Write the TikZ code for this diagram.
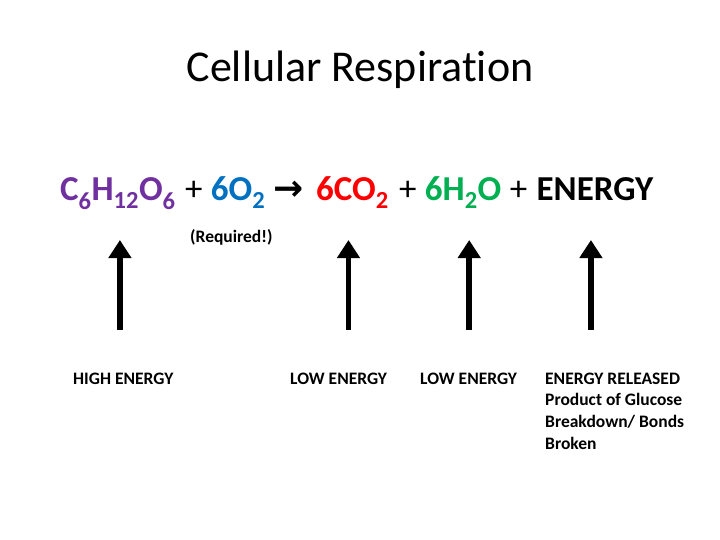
\documentclass[tikz,border=0pt]{standalone}
\usepackage{fontspec}
\setmainfont{Carlito}[Ligatures={TeX,NoCommon}]
\newfontfamily\symfont{DejaVu Sans}
\usetikzlibrary{positioning,arrows.meta}
\definecolor{glupurple}{RGB}{112,48,160}
\definecolor{oxyblue}{RGB}{0,112,192}
\definecolor{codred}{RGB}{255,0,0}
\definecolor{watgreen}{RGB}{0,176,80}
\tikzset{
  term/.style={inner sep=0pt, anchor=base west, font=\fontsize{35}{42}\selectfont\bfseries},
  sign/.style={inner sep=0pt, anchor=base west, font=\fontsize{35}{42}\selectfont},
  lbl/.style={inner sep=0pt, anchor=base west, align=left, font=\fontsize{17.5}{21.7}\selectfont\bfseries},
  uparr/.style={-{Triangle[length=18pt, width=22pt]}, line width=5.5pt},
}
\newcommand{\sbs}[1]{\textsubscript{#1}}

\begin{document}
\begin{tikzpicture}[x=1pt, y=-1pt]
\useasboundingbox (0,0) rectangle (720,540);
\node[inner sep=0pt, anchor=base, font=\fontsize{44}{50}\selectfont] (title) at (360,82) {Cellular Respiration};
% equation
\node[term, text=glupurple] (glu) at (60,201) {C\sbs{6}H\sbs{12}O\sbs{6}};
\node[sign] (p1) at ([xshift=9pt]glu.base east) {+};
\node[term, text=oxyblue] (oxy) at ([xshift=8pt]p1.base east) {6O\sbs{2}};
\node[sign, font=\symfont\bfseries\fontsize{36}{42}\selectfont] (yld) at ([xshift=8pt]oxy.base east) {→};
\node[term, text=codred] (cod) at ([xshift=12pt]yld.base east) {6CO\sbs{2}};
\node[sign] (p2) at ([xshift=10pt]cod.base east) {+};
\node[term, text=watgreen] (wat) at ([xshift=8pt]p2.base east) {6H\sbs{2}O};
\node[sign] (p3) at ([xshift=8pt]wat.base east) {+};
\node[term] (nrg) at ([xshift=9pt]p3.base east) {ENERGY};
\node[inner sep=0pt, anchor=base west, font=\fontsize{17.5}{20}\selectfont\bfseries] (req) at (190,242) {(Required!)};
% labels
\node[lbl] (hi) at (73,384) {HIGH ENERGY};
\node[lbl] (lo1) at (290,384) {LOW ENERGY};
\node[lbl] (lo2) at (420,384) {LOW ENERGY};
\coordinate (relx) at (545,0);
\node[lbl, anchor=north west] (rel) at (hi.north -| relx) {ENERGY RELEASED\\Product of Glucose\\Breakdown/ Bonds\\Broken};
% arrows
\coordinate (tailrow) at (0,330);
\coordinate (headrow) at (0,240);
\foreach \t/\dx in {glu/2, cod/-4, wat/6, nrg/-4}
  \draw[uparr] ([xshift=\dx pt]\t.south |- tailrow) -- ([xshift=\dx pt]\t.south |- headrow);
\end{tikzpicture}
\end{document}
